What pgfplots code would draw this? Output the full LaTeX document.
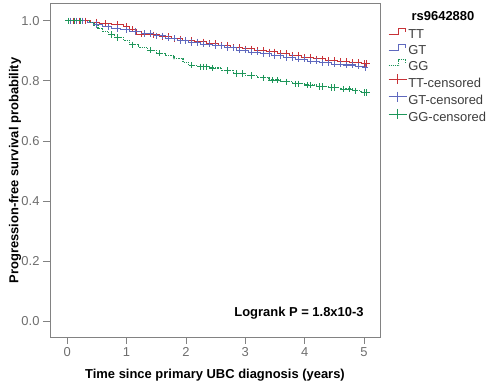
\documentclass[border=0pt]{standalone}
\usepackage{pgfplots}
\pgfplotsset{compat=1.18}
\usepackage{fontspec}
\setmainfont{Liberation Sans}
\definecolor{cTT}{RGB}{200,50,55}
\definecolor{cGT}{RGB}{95,105,190}
\definecolor{cGG}{RGB}{30,150,90}
\definecolor{frame}{RGB}{130,130,130}
\definecolor{ticklab}{RGB}{110,110,110}
\definecolor{legtext}{RGB}{60,60,60}
\begin{document}
\begin{tikzpicture}
\path[use as bounding box] (-50bp,-49bp) rectangle (450bp,337bp);
\begin{axis}[
  scale only axis, width=330bp, height=333bp,
  xmin=-0.29, xmax=5.27, ymin=-0.053, ymax=1.056,
  xtick={0,1,2,3,4,5}, ytick={0,0.2,0.4,0.6,0.8,1.0},
  yticklabel style={/pgf/number format/.cd,fixed,fixed zerofill,precision=1},
  /pgf/number format/assume math mode=true,
  font=\fontsize{13}{15}\selectfont,
  tick label style={text=ticklab},
  axis line style={frame, line width=1pt},
  tick style={frame, line width=0.8pt},
  tick align=outside, major tick length=7bp,
  xtick pos=bottom, ytick pos=left,
  xlabel={\textbf{Time since primary UBC diagnosis (years)}},
  ylabel={\textbf{Progression-free survival probability}},
  xlabel style={at={(axis description cs:0.5,-0.114)}, anchor=center},
  ylabel style={at={(axis description cs:-0.106,0.5)}, anchor=center},
  legend style={at={(axis description cs:1.024,0.93)}, anchor=north west, draw=none, fill=none,
    font=\fontsize{13}{15}\selectfont, row sep=0pt, inner sep=0pt,
    nodes={inner sep=1.3bp, text height=10bp, text depth=3bp}},
  legend cell align=left,
]
% step curves
\addplot[cTT, line width=1pt, const plot, forget plot] coordinates {
(0,1.0) (0.40,0.996) (0.55,0.992) (0.75,0.988) (0.95,0.982) (1.05,0.972) (1.17,0.956) (1.35,0.953) (1.55,0.948) (1.75,0.940) (1.95,0.935) (2.15,0.930) (2.35,0.924) (2.55,0.919) (2.75,0.912) (2.95,0.907) (3.15,0.902) (3.35,0.897) (3.55,0.892) (3.75,0.885) (3.95,0.879) (4.15,0.873) (4.35,0.868) (4.55,0.865) (4.75,0.862) (4.95,0.858) (5.04,0.858)};
\addplot[cGT, line width=1pt, const plot, forget plot] coordinates {
(0,1.0) (0.35,0.995) (0.45,0.988) (0.60,0.980) (0.75,0.975) (0.90,0.970) (1.05,0.965) (1.25,0.958) (1.45,0.950) (1.65,0.942) (1.85,0.935) (2.05,0.928) (2.25,0.922) (2.45,0.917) (2.65,0.910) (2.85,0.902) (3.05,0.896) (3.25,0.890) (3.45,0.883) (3.65,0.878) (3.85,0.872) (4.05,0.866) (4.25,0.860) (4.45,0.856) (4.65,0.853) (4.85,0.849) (5.00,0.845) (5.04,0.845)};
\addplot[cGG, line width=1.2pt, densely dotted, const plot, forget plot] coordinates {
(0,1.0) (0.38,0.995) (0.45,0.985) (0.52,0.975) (0.60,0.965) (0.70,0.955) (0.80,0.945) (0.95,0.935) (1.05,0.920) (1.20,0.912) (1.35,0.902) (1.50,0.892) (1.65,0.884) (1.80,0.874) (1.95,0.862) (2.05,0.852) (2.20,0.847) (2.40,0.843) (2.60,0.835) (2.80,0.825) (3.00,0.818) (3.20,0.810) (3.40,0.803) (3.60,0.797) (3.80,0.790) (4.00,0.786) (4.20,0.781) (4.40,0.778) (4.60,0.773) (4.80,0.767) (4.95,0.761) (5.04,0.761)};
% censored marks
\addplot[cTT, only marks, mark=+, mark size=3.2bp, line width=0.9pt, forget plot] coordinates {
(0.1,1.0) (0.2,1.0) (0.3,1.0) (0.5,0.996) (0.65,0.992) (0.85,0.988) (1.0,0.982) (1.1,0.972) (1.25,0.956) (1.45,0.953) (1.6,0.948) (1.7,0.948) (1.8,0.940) (1.9,0.940) (2.0,0.935) (2.1,0.935) (2.2,0.930) (2.3,0.930) (2.4,0.924) (2.5,0.924) (2.6,0.919) (2.7,0.919) (2.8,0.912) (2.9,0.912) (3.0,0.907) (3.1,0.907) (3.2,0.902) (3.3,0.902) (3.4,0.897) (3.5,0.897) (3.6,0.892) (3.7,0.892) (3.8,0.885) (3.9,0.885) (4.0,0.879) (4.1,0.879) (4.2,0.873) (4.3,0.873) (4.4,0.868) (4.5,0.868) (4.6,0.865) (4.7,0.865) (4.8,0.862) (4.9,0.862) (5.0,0.858) (5.04,0.858)};
\addplot[cGT, only marks, mark=+, mark size=3.2bp, line width=0.9pt, forget plot] coordinates {
(0.05,1.0) (0.15,1.0) (0.25,1.0) (0.5,0.988) (0.7,0.980) (0.85,0.975) (1.0,0.970) (1.15,0.965) (1.3,0.958) (1.4,0.958) (1.5,0.950) (1.6,0.950) (1.7,0.942) (1.8,0.942) (1.9,0.935) (2.0,0.935) (2.1,0.928) (2.2,0.928) (2.3,0.922) (2.4,0.922) (2.5,0.917) (2.6,0.917) (2.7,0.910) (2.8,0.910) (2.9,0.902) (3.0,0.902) (3.1,0.896) (3.2,0.896) (3.3,0.890) (3.4,0.890) (3.5,0.883) (3.6,0.883) (3.7,0.878) (3.8,0.878) (3.9,0.872) (4.0,0.872) (4.1,0.866) (4.2,0.866) (4.3,0.860) (4.4,0.860) (4.5,0.856) (4.6,0.856) (4.7,0.853) (4.8,0.853) (4.9,0.849) (5.02,0.845)};
\addplot[cGG, only marks, mark=+, mark size=3.2bp, line width=0.9pt, forget plot] coordinates {
(0.02,1.0) (0.12,1.0) (0.22,1.0) (0.75,0.955) (0.85,0.945) (1.1,0.920) (1.4,0.902) (1.55,0.892) (2.1,0.852) (2.25,0.847) (2.3,0.847) (2.35,0.847) (2.45,0.843) (2.7,0.835) (2.85,0.825) (2.95,0.825) (3.1,0.818) (3.3,0.810) (3.45,0.803) (3.55,0.803) (3.7,0.797) (3.85,0.790) (3.9,0.790) (4.05,0.786) (4.1,0.786) (4.25,0.781) (4.3,0.781) (4.45,0.778) (4.5,0.778) (4.65,0.773) (4.75,0.773) (4.85,0.767) (5.0,0.761) (5.04,0.761)};
% legend
\addlegendimage{cTT, line width=0.8pt, legend image code/.code={\draw (0bp,1bp)--(10bp,1bp)--(10bp,7bp)--(17bp,7bp)--(17bp,3bp);}}
\addlegendentry{\textcolor{legtext}{TT}}
\addlegendimage{cGT, line width=0.8pt, legend image code/.code={\draw (0bp,1bp)--(10bp,1bp)--(10bp,7bp)--(17bp,7bp)--(17bp,3bp);}}
\addlegendentry{\textcolor{legtext}{GT}}
\addlegendimage{cGG, line width=1pt, densely dotted, legend image code/.code={\draw (0bp,1bp)--(10bp,1bp)--(10bp,7bp)--(17bp,7bp)--(17bp,3bp);}}
\addlegendentry{\textcolor{legtext}{GG}}
\addlegendimage{cTT, line width=0.8pt, mark=+, mark size=5bp, mark options={cTT, solid},
  legend image code/.code={\draw[cTT, mark repeat=2, mark phase=2] plot coordinates {(0bp,4.5bp) (9bp,4.5bp) (18bp,4.5bp)};}}
\addlegendentry{\textcolor{legtext}{TT-censored}}
\addlegendimage{cGT, line width=0.8pt, mark=+, mark size=5bp, mark options={cGT, solid},
  legend image code/.code={\draw[cGT, mark repeat=2, mark phase=2] plot coordinates {(0bp,4.5bp) (9bp,4.5bp) (18bp,4.5bp)};}}
\addlegendentry{\textcolor{legtext}{GT-censored}}
\addlegendimage{cGG, line width=0.8pt, mark=+, mark size=5bp, mark options={cGG, solid},
  legend image code/.code={\draw[cGG, mark repeat=2, mark phase=2] plot coordinates {(0bp,4.5bp) (9bp,4.5bp) (18bp,4.5bp)};}}
\addlegendentry{\textcolor{legtext}{GG-censored}}
\node[anchor=east, font=\fontsize{13}{15}\selectfont\bfseries] at (axis description cs:0.961,0.072) {Logrank P = 1.8x10-3};
\end{axis}
\node[font=\fontsize{13}{15}\selectfont\bfseries] at (393bp,321bp) {rs9642880};
\end{tikzpicture}
\end{document}
